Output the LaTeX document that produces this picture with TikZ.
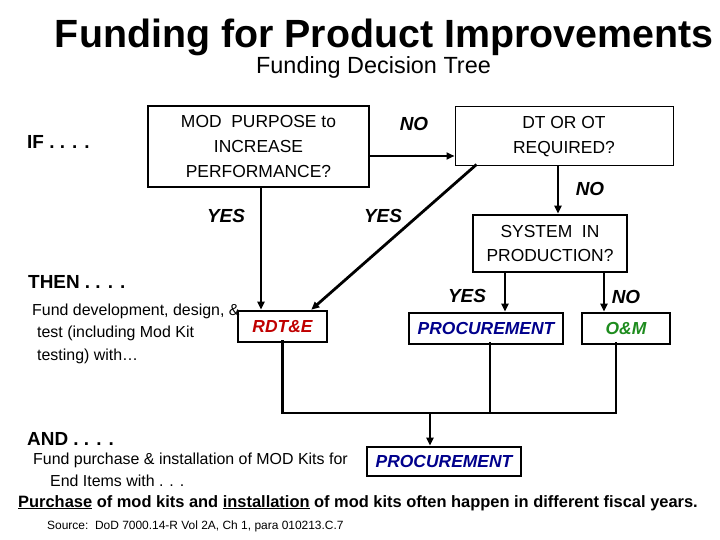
\documentclass[tikz,border=0pt]{standalone}
\usepackage{fontspec}
\setmainfont{Liberation Sans}
\usetikzlibrary{arrows.meta,calc}
\definecolor{rdred}{RGB}{192,0,0}
\definecolor{prblue}{RGB}{0,0,140}
\definecolor{omgreen}{RGB}{30,140,30}
\tikzset{
  box/.style={draw=black, line width=2.6bp, inner sep=0pt, align=center, font=\fontsize{17.5}{25}\selectfont},
  thinbox/.style={box, line width=1bp},
  conn/.style={line width=2.8bp},
  arr/.style={conn, -{Triangle[length=8bp,width=7bp]}},
  lbl/.style={font=\fontsize{19}{22}\selectfont\bfseries\itshape, anchor=base, inner sep=0pt},
  hdr/.style={font=\fontsize{19}{22}\selectfont\bfseries, anchor=base west, inner sep=0pt},
  body/.style={font=\fontsize{16}{20}\selectfont, anchor=base west, inner sep=0pt},
  fund/.style={font=\fontsize{17.5}{20}\selectfont\bfseries\itshape}
}
\begin{document}
\begin{tikzpicture}[x=1bp,y=-1bp]
\useasboundingbox[fill=white] (0,0) rectangle (720,540);
% titles
\node[font=\fontsize{39.5}{44}\selectfont\bfseries, anchor=base, inner sep=0pt] (title) at (384,48) {Funding for Product Improvements};
\node[font=\fontsize{23.5}{26}\selectfont, anchor=base, inner sep=0pt] (sub) at (373.5,74) {Funding Decision Tree};
% left texts
\node[hdr] (if) at (27,149) {IF . . . .};
\node[hdr] (then) at (28,288) {THEN . . . .};
\node[body] (t1) at (32,315) {Fund development, design, \&};
\node[body] (t2) at (37,337) {test (including Mod Kit};
\node[body] (t3) at (37,360) {testing) with…};
\node[hdr] (and) at (27,445) {AND . . . .};
\node[body] (t4) at (33,464) {Fund purchase \& installation of MOD Kits for};
\node[body] (t5) at (50,486) {End Items with . . .};
\node[font=\fontsize{16.5}{20}\selectfont\bfseries, anchor=base west, inner sep=0pt] (note) at (18,507) {\underline{Purchase} of mod kits and \underline{installation} of mod kits often happen in different fiscal years.};
\node[font=\fontsize{12}{14}\selectfont, anchor=base west, inner sep=0pt] (src) at (47,529.5) {Source:\ \ DoD 7000.14-R Vol 2A, Ch 1, para 010213.C.7};
% boxes
\node[box, line width=2bp, minimum width=221bp, minimum height=81bp] (b1) at (258.5,146.5) {MOD\ \ PURPOSE to\\INCREASE\\PERFORMANCE?};
\node[thinbox, minimum width=218bp, minimum height=59bp] (b2) at (564,136.5) {DT OR OT\\REQUIRED?};
\node[box, minimum width=154bp, minimum height=57bp] (b3) at (550,243.5) {SYSTEM\ \ IN\\PRODUCTION?};
\node[box, minimum width=89bp, minimum height=31bp, fund, text=rdred] (rdte) at (282.5,326.5) {RDT\&E};
\node[box, minimum width=154bp, minimum height=31bp, fund, text=prblue] (proc1) at (486,328.5) {PROCUREMENT};
\node[box, minimum width=88bp, minimum height=31bp, fund, text=omgreen] (oam) at (626,328.5) {O\&M};
\node[box, minimum width=154bp, minimum height=29bp, fund, text=prblue] (proc2) at (444,461.5) {PROCUREMENT};
% labels
\node[lbl] (no1) at (414,131) {NO};
\node[lbl] (yes1) at (226,223) {YES};
\node[lbl] (yes2) at (383,223) {YES};
\node[lbl] (no2) at (590,196) {NO};
\node[lbl] (yes3) at (467,302) {YES};
\node[lbl] (no3) at (626,303) {NO};
% connectors
\draw[arr] ([xshift=2.5bp]b1.south) -- ([xshift=2.5bp]b1.south |- rdte.north);
\draw[arr] ([yshift=-9.5bp]b1.east) -- ([yshift=-9.5bp]b1.east -| b2.west);
\draw[arr] ([xshift=22bp,yshift=2bp]b2.south west) -- ([xshift=-17bp]rdte.north east);
\draw[arr] ([xshift=-6bp,yshift=1bp]b2.south) -- ([xshift=-6bp]b2.south |- b3.north);
\draw[arr] ([xshift=-45bp]b3.south) -- ([xshift=-45bp]b3.south |- proc1.north);
\draw[arr] ([xshift=54bp]b3.south) -- ([xshift=54bp]b3.south |- oam.north);
\coordinate (j) at (283,413);
\draw[conn] ([yshift=3bp]rdte.south) -- (rdte.south |- j);
\draw[conn] ([xshift=4bp,yshift=3bp]proc1.south) -- ([xshift=4bp]proc1.south |- j);
\draw[conn] ([xshift=-10bp,yshift=3bp]oam.south) -- ([xshift=-10bp]oam.south |- j);
\draw[conn, line cap=rect] (rdte.south |- j) -- ([xshift=-10bp]oam.south |- j);
\draw[arr] ([xshift=-14bp]proc2.north |- j) -- ([xshift=-14bp]proc2.north);
\end{tikzpicture}
\end{document}
